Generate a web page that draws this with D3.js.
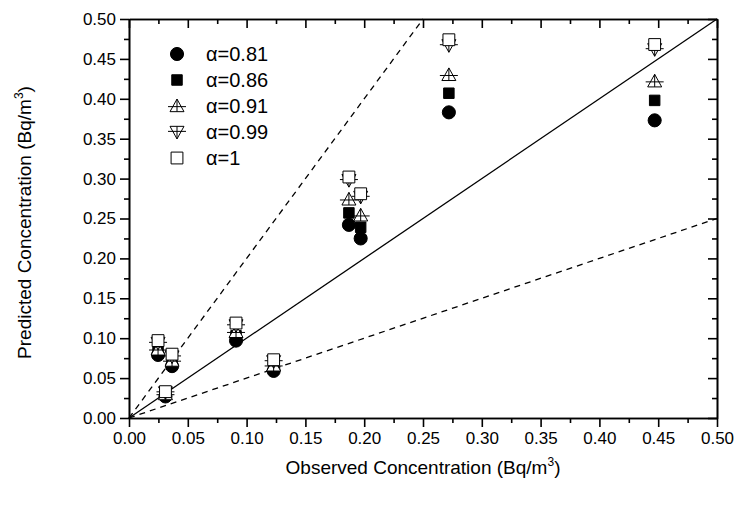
<!doctype html>
<html>
<head>
<meta charset="utf-8" />
<title>Predicted vs Observed</title>
<script src="https://cdn.jsdelivr.net/npm/d3@7"></script>
<style>
  html, body { margin: 0; padding: 0; background: #fff; }
  svg { display: block; }
  text { font-family: "Liberation Sans", Arial, sans-serif; fill: #000; }
</style>
</head>
<body>
<svg id="chart" width="740" height="510"></svg>
<script>
// observed concentrations (x) for each sample
var observed = [0.0247, 0.0366, 0.031, 0.091, 0.123, 0.187, 0.197, 0.272, 0.447];
// predicted concentrations, one array per alpha
var a081 = [0.079, 0.065, 0.027, 0.097, 0.059, 0.242, 0.225, 0.383, 0.373];
var a086 = [0.083, 0.069, 0.029, 0.103, 0.063, 0.257, 0.239, 0.407, 0.398];
var a091 = [0.086, 0.072, 0.030, 0.108, 0.066, 0.274, 0.254, 0.430, 0.422];
var a099 = [0.094, 0.077, 0.032, 0.116, 0.071, 0.298, 0.277, 0.467, 0.462];
var a100 = [0.097, 0.080, 0.033, 0.119, 0.073, 0.302, 0.281, 0.474, 0.468];
var seriesNames = ["\u03b1=0.81", "\u03b1=0.86", "\u03b1=0.91", "\u03b1=0.99", "\u03b1=1"];
var ticks = [0, 0.05, 0.10, 0.15, 0.20, 0.25, 0.30, 0.35, 0.40, 0.45, 0.50];
var minorTicks = [0.025, 0.075, 0.125, 0.175, 0.225, 0.275, 0.325, 0.375, 0.425, 0.475];
// reference lines: 1:1, factor 2 above, factor 2 below
var refLines = [
  {pts: [[0, 0], [0.5, 0.5]], dash: null},
  {pts: [[0, 0], [0.25, 0.5]], dash: "6,5"},
  {pts: [[0, 0], [0.5, 0.25]], dash: "6,5"}
];

var L = 129, R = 717, T = 19, B = 418;
var svg = d3.select("#chart");
var x = d3.scaleLinear().domain([0, 0.5]).range([L, R]);
var y = d3.scaleLinear().domain([0, 0.5]).range([B, T]);
var fmt = d3.format(".2f");

// reference lines
var line = d3.line().x(function(d){ return x(d[0]); }).y(function(d){ return y(d[1]); });
svg.selectAll("path.ref").data(refLines).enter().append("path")
  .attr("class", "ref")
  .attr("d", function(d){ return line(d.pts); })
  .attr("fill", "none").attr("stroke", "#000").attr("stroke-width", 1.3)
  .attr("stroke-dasharray", function(d){ return d.dash; });

// markers
function triPath(s, down) {
  var k = down ? -1 : 1;
  var h = s * 0.9;
  var p = d3.path();
  p.moveTo(0, -k * h * 0.55);
  p.lineTo(s / 2, k * h * 0.45);
  p.lineTo(-s / 2, k * h * 0.45);
  p.closePath();
  // cross
  p.moveTo(0, -k * h * 0.55); p.lineTo(0, k * h * 0.45);
  p.moveTo(-s / 2 - 2, k * h * 0.05); p.lineTo(s / 2 + 2, k * h * 0.05);
  return p.toString();
}
var markers = [
  {d: d3.symbol().type(d3.symbolCircle).size(135)(), fill: "#000"},
  {d: d3.symbol().type(d3.symbolSquare).size(110)(), fill: "#000"},
  {d: triPath(14, false), fill: "#fff"},
  {d: triPath(14, true), fill: "#fff"},
  {d: d3.symbol().type(d3.symbolSquare).size(140)(), fill: "#fff"}
];
var series = [a081, a086, a091, a099, a100];

series.forEach(function(vals, i) {
  svg.append("g").selectAll("path").data(vals).enter().append("path")
    .attr("transform", function(d, j){ return "translate(" + x(observed[j]) + "," + y(d) + ")"; })
    .attr("d", markers[i].d)
    .attr("fill", markers[i].fill)
    .attr("stroke", "#000").attr("stroke-width", 1);
});

// axes
function styleAxis(g) {
  g.selectAll(".domain").attr("stroke-width", 1.6);
  g.selectAll(".tick line").attr("stroke-width", 1.6);
  g.selectAll(".tick text").style("font-size", "17px").style("font-family", "Liberation Sans, Arial, sans-serif");
}
svg.append("g").attr("transform", "translate(0," + B + ")")
  .call(d3.axisBottom(x).tickValues(minorTicks).tickSize(5).tickFormat("").tickSizeOuter(0)).call(styleAxis);
svg.append("g").attr("transform", "translate(0," + B + ")")
  .call(d3.axisBottom(x).tickValues(ticks).tickSize(9).tickPadding(5).tickFormat(fmt).tickSizeOuter(0)).call(styleAxis);
svg.append("g").attr("transform", "translate(" + L + ",0)")
  .call(d3.axisLeft(y).tickValues(minorTicks).tickSize(5).tickFormat("").tickSizeOuter(0)).call(styleAxis);
svg.append("g").attr("transform", "translate(" + L + ",0)")
  .call(d3.axisLeft(y).tickValues(ticks).tickSize(9).tickPadding(4).tickFormat(fmt).tickSizeOuter(0)).call(styleAxis);
// top and right, ticks inward
svg.append("g").attr("transform", "translate(0," + T + ")")
  .call(d3.axisBottom(x).tickValues(minorTicks).tickSize(5).tickFormat("").tickSizeOuter(0)).call(styleAxis);
svg.append("g").attr("transform", "translate(0," + T + ")")
  .call(d3.axisBottom(x).tickValues(ticks).tickSize(9).tickFormat("").tickSizeOuter(0)).call(styleAxis);
svg.append("g").attr("transform", "translate(" + R + ",0)")
  .call(d3.axisLeft(y).tickValues(minorTicks).tickSize(5).tickFormat("").tickSizeOuter(0)).call(styleAxis);
svg.append("g").attr("transform", "translate(" + R + ",0)")
  .call(d3.axisLeft(y).tickValues(ticks).tickSize(9).tickFormat("").tickSizeOuter(0)).call(styleAxis);

// axis titles
var xt = svg.append("text").attr("x", (L + R) / 2).attr("y", 474)
  .attr("text-anchor", "middle").style("font-size", "19px");
xt.append("tspan").text("Observed Concentration (Bq/m");
xt.append("tspan").attr("dy", -8).style("font-size", "12px").text("3");
xt.append("tspan").attr("dy", 8).text(")");

var yt = svg.append("text").attr("transform", "translate(31," + ((T + B) / 2 + 4) + ") rotate(-90)")
  .attr("text-anchor", "middle").style("font-size", "19px");
yt.append("tspan").text("Predicted Concentration (Bq/m");
yt.append("tspan").attr("dy", -8).style("font-size", "12px").text("3");
yt.append("tspan").attr("dy", 8).text(")");

// legend
var leg = svg.append("g").selectAll("g").data(seriesNames).enter().append("g")
  .attr("transform", function(d, i){ return "translate(177," + (54 + i * 26) + ")"; });
leg.append("path")
  .attr("d", function(d, i){ return markers[i].d; })
  .attr("fill", function(d, i){ return markers[i].fill; })
  .attr("stroke", "#000").attr("stroke-width", 1);
leg.append("text").attr("x", 29).attr("y", 7).style("font-size", "20px").text(function(d){ return d; });
</script>
</body>
</html>
